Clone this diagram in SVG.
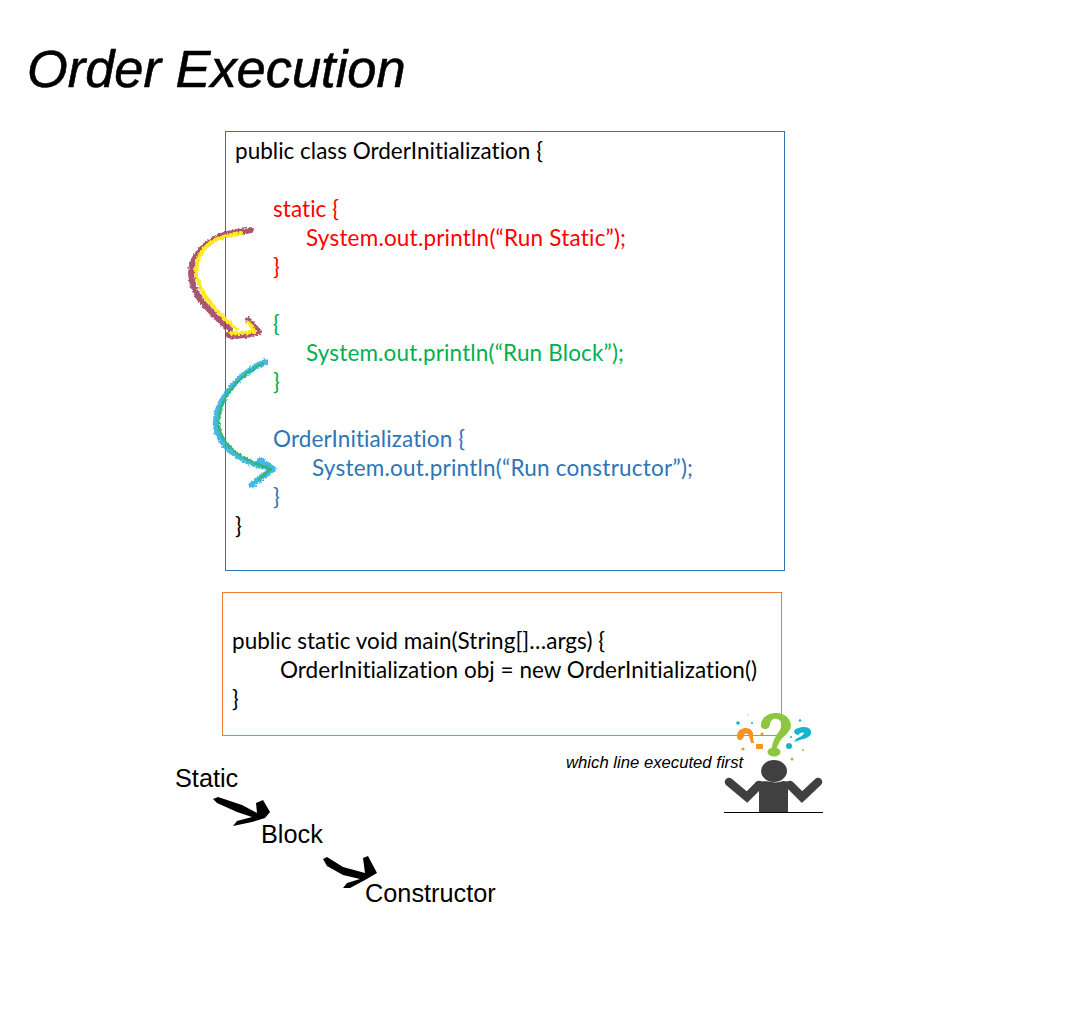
<svg xmlns="http://www.w3.org/2000/svg" width="1080" height="1016" viewBox="0 0 1080 1016">
<style>
.c{font-family:Lato,"Liberation Sans",sans-serif;font-size:22.5px;font-variant-ligatures:none}
.a{font-family:"Liberation Sans",Arial,sans-serif}
.k{fill:#000}.r{fill:#f00}.g{fill:#00b050}.b{fill:#2e75b6}
.box{fill:none;stroke-width:1}
.st{fill:none;stroke-linecap:round;stroke-linejoin:round}
.person{fill:#404040}
.arm{fill:none;stroke:#404040;stroke-width:8.500;stroke-linecap:round;stroke-linejoin:miter}
</style>
<defs>
<filter id="chalk" x="-20%" y="-20%" width="140%" height="140%">
<feTurbulence type="fractalNoise" baseFrequency="0.45" numOctaves="2" seed="4"/>
<feDisplacementMap in="SourceGraphic" scale="4" xChannelSelector="R" yChannelSelector="G"/>
<feGaussianBlur stdDeviation="0.6"/>
</filter>
<filter id="rough" x="-10%" y="-10%" width="120%" height="120%">
<feTurbulence type="fractalNoise" baseFrequency="0.3" numOctaves="1" seed="2"/>
<feDisplacementMap in="SourceGraphic" scale="1" xChannelSelector="R" yChannelSelector="G"/>
</filter>
</defs>
<rect width="1080" height="1016" fill="#fff"/>
<g id="title"><text class="a" x="27" y="87" font-size="52.400" font-style="italic" stroke="#000" stroke-width=".6">Order Execution</text></g>
<g id="class-box">
<rect class="box" x="225.500" y="131.500" width="559" height="439" stroke="#2e75b6"/>
<text class="c k" x="235" y="159" textLength="308">public class OrderInitialization {</text>
<text class="c r" x="273" y="217" textLength="66">static {</text>
<text class="c r" x="306" y="246" textLength="320">System.out.println(“Run Static”);</text>
<text class="c r" x="273" y="275">}</text>
<text class="c g" x="273" y="332">{</text>
<text class="c g" x="306" y="361" textLength="318">System.out.println(“Run Block”);</text>
<text class="c g" x="273" y="390">}</text>
<text class="c b" x="273" y="447" textLength="192">OrderInitialization {</text>
<text class="c b" x="312" y="476" textLength="381">System.out.println(“Run constructor”);</text>
<text class="c b" x="273" y="505">}</text>
<text class="c k" x="235" y="534">}</text>
</g>
<g id="main-box">
<rect class="box" x="222.500" y="592.500" width="559" height="143" stroke="#ed7d31"/>
<text class="c k" x="232" y="649" textLength="373">public static void main(String[]…args) {</text>
<text class="c k" x="280" y="678" textLength="477">OrderInitialization obj = new OrderInitialization()</text>
<text class="c k" x="232" y="707">}</text>
</g>
<g id="connectors">
<g class="st" filter="url(#chalk)">
<path d="M251 230C237 233 223 233 213 240C199 249 191 259 191 274C192 287 197 297 205 305C214 315 221 323 230 329M228 335C239 337 249 335 259 332L248 320" stroke="#962c4c" stroke-width="6" opacity=".8"/>
<path d="M241 233C227 235 215 238 208 245C201 251 196 261 196 273C198 286 204 296 213 306C221 315 229 324 237 329M230 333C239 334 247 333 255 331L248 322" stroke="#ffe81a" stroke-width="4"/>
<path d="M265 362C249 369 237 379 227 393C219 404 215 416 216 426C218 438 225 447 235 454C245 462 259 466 273 469M260 460L273 469L262 477L252 485" stroke="#22aee0" stroke-width="6" opacity=".85"/>
<path d="M263 363C249 370 237 380 228 394C221 405 218 416 219 426C221 438 227 446 237 453C247 460 259 465 271 469L259 479" stroke="#35b56a" stroke-width="2.500" opacity=".9"/>
</g>
<g filter="url(#rough)">
<path d="M213 799L218 797L242 805L257 813L256 803L263 800L270 812L265 818L252 822L233 826L237 821L252 817L237 812L217 803Z" fill="#000"/>
<path d="M323 859L327 857L343 867L365 873L363 858L368 856L377 873L365 880L350 888L343 888L347 883L360 879L343 875L327 866Z" fill="#000"/>
</g>
</g>
<g id="sequence">
<text class="a" x="175" y="787" font-size="25.300">Static</text>
<text class="a" x="261" y="843" font-size="25.300">Block</text>
<text class="a" x="365" y="902" font-size="25.300">Constructor</text>
</g>
<g id="question-person">
<text class="a" x="566" y="768" font-size="16.700" font-style="italic">which line executed first</text>
<path d="M761 727C760 718 768 713 776 713C786 713 791 720 791 726C790 733 783 736 780 741L776 749L772 749C772 741 777 734 780 730C782 726 782 720 777 719C772 718 771 721 770 724C770 729 764 731 761 727Z" fill="#8dc63f"/>
<ellipse cx="774" cy="752" rx="6.500" ry="4.500" fill="#8dc63f"/>
<path d="M737 735C738 730 742 728 746 728C751 728 754 732 753 737L754 743L751 743L749 736C748 733 745 733 744 735C744 738 741 741 739 740C737 739 737 737 737 735Z" fill="#f7931e"/>
<rect x="756" y="744" width="7" height="5" rx="1" fill="#f7931e"/>
<circle cx="743" cy="749" r="1.500" fill="#f7931e"/><circle cx="762" cy="734" r="1.500" fill="#f7931e"/>
<path d="M794 731C796 728 800 727 804 727C809 727 812 730 811 734C809 738 803 739 800 740L794 742L796 739C799 737 803 736 804 733C802 732 800 733 798 735C796 735 794 733 794 731Z" fill="#12b5cb"/>
<circle cx="789" cy="746" r="3" fill="#12b5cb"/><circle cx="738" cy="723" r="1.800" fill="#12b5cb"/><circle cx="752" cy="723" r="1" fill="#12b5cb"/><circle cx="800" cy="720.500" r="1.200" fill="#12b5cb"/><circle cx="748" cy="715" r=".6" fill="#12b5cb"/><circle cx="791" cy="737" r="1" fill="#12b5cb"/>
<circle cx="792" cy="759" r="1.500" fill="#8dc63f"/><circle cx="803" cy="750" r="1" fill="#8dc63f"/>
<ellipse class="person" cx="774" cy="771" rx="13" ry="11"/>
<path class="person" d="M759 812V790L755 782C762 781 768 781 772 782C776 783 780 782 783 781L792 782L788 790V812Z"/>
<path class="arm" d="M729 782L747 797L759 785"/>
<path class="arm" d="M818 782L802 797L790 785"/>
<rect x="724" y="812" width="99" height="1" fill="#000"/>
</g>
</svg>
